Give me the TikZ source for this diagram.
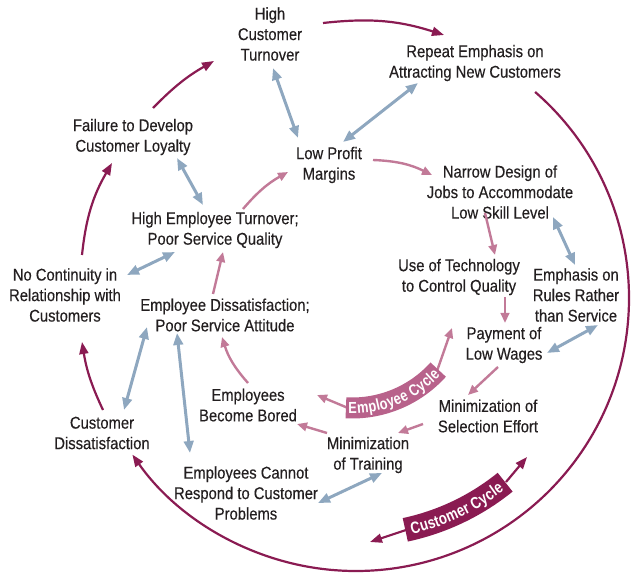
\documentclass[tikz,border=0pt]{standalone}
\usepackage{fontspec}
\setmainfont{Liberation Sans}[FakeStretch=0.87, UprightFeatures={FakeBold=0.35}]
\newfontfamily\bannerfont{Liberation Sans Bold}[FakeStretch=0.8]
\usetikzlibrary{arrows.meta,decorations.text}
\definecolor{maroonc}{HTML}{8A1B52}
\definecolor{pinkc}{HTML}{C27A98}
\definecolor{bluec}{HTML}{8EA7BF}
\definecolor{txtc}{HTML}{231F20}
\definecolor{empband}{HTML}{B8628B}
\begin{document}
\begin{tikzpicture}[x=1pt,y=1pt,
  lbl/.style={align=center, inner sep=0pt, text=txtc, font=\fontsize{17}{20.5}\selectfont},
  blu/.style={draw=bluec, line width=3pt, {Triangle[length=12pt,width=9.5pt]}-{Triangle[length=12pt,width=9.5pt]}},
  pnk/.style={draw=pinkc, line width=2.4pt, -{Triangle[length=10pt,width=8.5pt]}},
  mar/.style={draw=maroonc, line width=2.2pt, -{Triangle[length=12pt,width=9pt]}},
  band/.style={line width=#1, line cap=butt},
  ]
\useasboundingbox (0,0) rectangle (635,-577);
% nodes
\node[lbl] (hct) at (270,-34) {High\\Customer\\Turnover};
\node[lbl] (rep) at (475,-63) {Repeat Emphasis on\\Attracting New Customers};
\node[lbl] (fail) at (133,-137) {Failure to Develop\\Customer Loyalty};
\node[lbl] (lpm) at (329,-165) {Low Profit\\Margins};
\node[lbl] (nar) at (500,-192) {Narrow Design of\\Jobs to Accommodate\\Low Skill Level};
\node[lbl] (het) at (215,-230) {High Employee Turnover;\\Poor Service Quality};
\node[lbl] (noc) at (65,-295) {No Continuity in\\Relationship with\\Customers};
\node[lbl] (eds) at (225,-315) {Employee Dissatisfaction;\\Poor Service Attitude};
\node[lbl] (tech) at (459,-277) {Use of Technology\\to Control Quality};
\node[lbl] (rules) at (576,-295) {Emphasis on\\Rules Rather\\than Service};
\node[lbl] (pay) at (504,-345) {Payment of\\Low Wages};
\node[lbl] (sel) at (488,-416) {Minimization of\\Selection Effort};
\node[lbl] (bored) at (248,-405) {Employees\\Become Bored};
\node[lbl] (cds) at (102,-433) {Customer\\Dissatisfaction};
\node[lbl] (train) at (368,-455) {Minimization\\of Training};
\node[lbl] (cannot) at (246,-493) {Employees Cannot\\Respond to Customer\\Problems};
% centres of the cycles
\coordinate (bigc) at (356,-298);
\coordinate (ec) at (352,-292);
% customer (outer) cycle
\coordinate (a1s) at (153,-108); \coordinate (a1e) at (214,-61);
\coordinate (a2s) at (323,-23);  \coordinate (a2e) at (444,-35);
\coordinate (a3s) at (82,-255);  \coordinate (a3e) at (112,-163);
\coordinate (a4s) at (103,-410); \coordinate (a4e) at (82,-342);
\draw[mar] (a1s) to[bend left=8] (a1e);
\draw[mar] (a2s) to[bend left=12] (a2e);
\draw[mar] (a3s) to[bend left=12] (a3e);
\draw[mar] (a4s) to[bend left=8] (a4e);
\draw[mar] (bigc) ++(49:273pt) arc[start angle=49, end angle=-145, radius=273pt];
% blue double arrows
\coordinate (b1a) at (273,-68);  \coordinate (b1b) at (298,-138);
\coordinate (b2a) at (418,-83);  \coordinate (b2b) at (343,-142);
\coordinate (b3a) at (177,-158); \coordinate (b3b) at (203,-205);
\coordinate (b4a) at (127,-275); \coordinate (b4b) at (175,-252);
\coordinate (b5a) at (147,-327); \coordinate (b5b) at (124,-410);
\coordinate (b6a) at (177,-333); \coordinate (b6b) at (190,-453);
\coordinate (b7a) at (553,-217); \coordinate (b7b) at (575,-265);
\coordinate (b8a) at (547,-353); \coordinate (b8b) at (598,-325);
\coordinate (b9a) at (318,-503); \coordinate (b9b) at (382,-473);
\foreach \i in {1,...,9} {\draw[blu] (b\i a) -- (b\i b);}
% pink arrows
\coordinate (p1s) at (243,-209); \coordinate (p1e) at (288,-172);
\coordinate (p2s) at (213,-294); \coordinate (p2e) at (223,-252);
\coordinate (p3s) at (373,-160); \coordinate (p3e) at (432,-175);
\coordinate (p4s) at (485,-213); \coordinate (p4e) at (495,-255);
\coordinate (p5s) at (505,-297); \coordinate (p5e) at (505,-323);
\coordinate (p6s) at (498,-367); \coordinate (p6e) at (468,-395);
\coordinate (p7s) at (423,-424); \coordinate (p7e) at (398,-433);
\coordinate (p8s) at (327,-433); \coordinate (p8e) at (297,-424);
\coordinate (p9s) at (248,-383); \coordinate (p9e) at (222,-337);
\draw[pnk] (p1s) to[bend left=10] (p1e);
\draw[pnk] (p2s) -- (p2e);
\draw[pnk] (p3s) to[bend left=12] (p3e);
\draw[pnk] (p4s) -- (p4e);
\draw[pnk] (p5s) -- (p5e);
\draw[pnk] (p6s) -- (p6e);
\draw[pnk] (p7s) -- (p7e);
\draw[pnk] (p8s) -- (p8e);
\draw[pnk] (p9s) to[bend left=12] (p9e);
% employee cycle banner
\coordinate (eL) at (348,-408); \coordinate (eLt) at (317,-395);
\coordinate (eR) at (437,-371); \coordinate (eRt) at (452,-328);
\draw[pnk] (eL) -- (eLt);
\draw[pnk] (eR) -- (eRt);
\draw[empband, band=21pt] (ec) ++(-93:116pt) arc[start angle=-93, end angle=-42, radius=116pt];
\path[decorate, decoration={text along path, text={|\bannerfont\fontsize{16}{16}\selectfont|Employee Cycle}, text color=white, text align=center, raise=-5.6pt}]
  (ec) ++(-93:116pt) arc[start angle=-93, end angle=-42, radius=116pt];
% customer cycle banner
\coordinate (cL) at (406,-530); \coordinate (cLt) at (370,-542);
\coordinate (cR) at (506,-482); \coordinate (cRt) at (527,-457);
\draw[mar] (cL) -- (cLt);
\draw[mar] (cR) -- (cRt);
\draw[maroonc, band=24pt] (bigc) ++(-78:237pt) arc[start angle=-78, end angle=-51, radius=237pt];
\path[decorate, decoration={text along path, text={|\bannerfont\fontsize{16.5}{17}\selectfont|Customer Cycle}, text color=white, text align=center, raise=-5.8pt}]
  (bigc) ++(-78:237pt) arc[start angle=-78, end angle=-51, radius=237pt];
\end{tikzpicture}
\end{document}
